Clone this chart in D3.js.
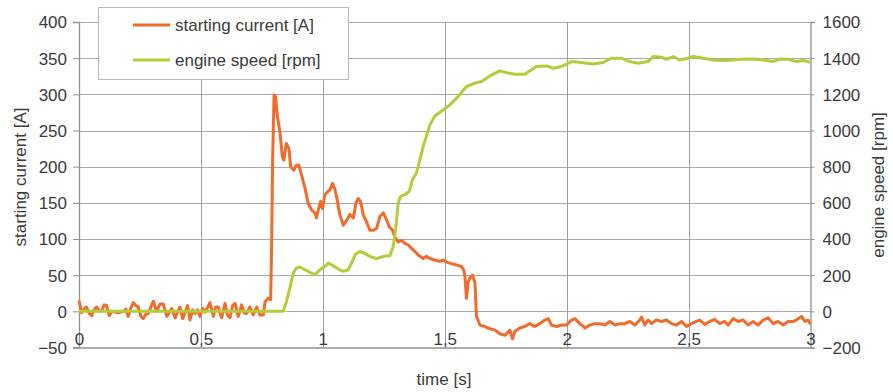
<!DOCTYPE html>
<html><head><meta charset="utf-8">
<script src="https://cdn.jsdelivr.net/npm/d3@7"></script>
<style>body{margin:0;background:#fff}svg{display:block;font-family:"Liberation Sans",Arial,sans-serif}</style>
</head><body><svg id="c" width="893" height="392"></svg>
<script>
const xTicks = [0, 0.5, 1, 1.5, 2, 2.5, 3];
const xTickLabels = ["0", "0,5", "1", "1,5", "2", "2,5", "3"];
const currentTicks = [-50, 0, 50, 100, 150, 200, 250, 300, 350, 400];
const speedTicks = [-200, 0, 200, 400, 600, 800, 1000, 1200, 1400, 1600];
const seriesNames = ["starting current [A]", "engine speed [rpm]"];

const currentTime = [0,0.011,0.021,0.031,0.042,0.052,0.062,0.072,0.083,0.093,0.103,0.113,0.124,0.134,0.148,0.161,0.172,0.182,0.192,0.202,0.213,0.223,0.233,0.243,0.254,0.264,0.274,0.284,0.295,0.305,0.318,0.332,0.346,0.36,0.37,0.38,0.394,0.404,0.414,0.425,0.435,0.445,0.455,0.466,0.476,0.486,0.496,0.507,0.517,0.527,0.537,0.551,0.561,0.571,0.585,0.599,0.609,0.619,0.63,0.64,0.653,0.667,0.677,0.687,0.701,0.715,0.729,0.742,0.756,0.763,0.776,0.786,
0.790,0.794,0.8,0.806,0.813,0.824,0.834,0.84,0.85,0.861,0.868,0.881,0.891,0.902,0.913,0.927,0.94,0.954,0.968,0.974,0.981,0.991,0.999,1.008,1.018,1.029,1.04,1.05,1.059,1.07,1.084,1.098,1.111,1.125,1.136,1.145,1.155,1.166,1.179,1.193,1.207,1.221,1.234,1.248,1.262,1.272,1.286,1.295,1.309,1.323,1.336,1.35,1.364,1.377,1.391,1.412,1.425,1.439,1.459,1.48,1.494,1.507,1.528,1.548,1.569,1.578,1.583,1.589,1.596,1.603,1.614,1.624,1.63,1.644,1.665,1.685,1.706,1.726,1.747,1.767,1.778,1.787,1.808,1.828,1.849,1.869,1.89,1.91,1.924,1.938,1.959,1.979,2.0,2.02,2.034,2.054,2.075,2.095,2.116,2.136,2.157,2.177,2.198,2.218,2.239,2.259,2.28,2.3,2.307,2.321,2.334,2.348,2.368,2.389,2.409,2.43,2.45,2.471,2.491,2.512,2.532,2.546,2.566,2.587,2.607,2.628,2.648,2.662,2.683,2.703,2.724,2.744,2.765,2.785,2.806,2.826,2.847,2.867,2.888,2.908,2.929,2.942,2.963,2.977,2.99,3.0];
const currentValues = [15,-2,3,6,-3,-6,2,6,1,0,9,8,-6,0,-1,-2,-1,0,3,-7,5,12,8,6,-7,-10,-4,-3,6,14,0,10,10,-7,-2,4,-9,-1,6,-10,-2,8,-12,2,-3,2,-7,4,-1,5,12,-7,6,6,-9,11,-5,-9,8,11,-7,9,-2,-3,6,-5,6,-5,-5,13,18,16,
92,207,299,297,271,248,214,209,232,225,200,195,202,202,188,170,149,140,136,129,140,152,142,161,165,168,177,168,154,133,119,126,134,129,150,156,152,133,124,112,112,115,131,136,126,117,112,103,96,98,94,92,87,83,78,73,76,73,71,69,71,68,66,64,62,57,48,18,40,46,50,39,-6,-19,-21,-24,-26,-31,-33,-26,-38,-28,-23,-21,-17,-21,-17,-12,-10,-19,-21,-19,-19,-12,-10,-17,-23,-19,-17,-17,-19,-14,-19,-17,-17,-14,-19,-12,-8,-19,-12,-17,-12,-14,-12,-17,-19,-14,-21,-17,-14,-12,-18,-14,-11,-17,-14,-19,-10,-14,-12,-19,-14,-19,-12,-9,-17,-14,-19,-14,-14,-12,-7,-14,-12,-18];

const speedTime = [0,0.838,0.851,0.865,0.879,0.892,0.906,0.927,0.947,0.968,0.988,1.009,1.022,1.043,1.063,1.084,1.104,1.118,1.132,1.152,1.173,1.193,1.221,1.248,1.275,1.289,1.3,1.309,1.319,1.336,1.354,1.368,1.384,1.398,1.412,1.425,1.439,1.459,1.494,1.521,1.555,1.589,1.623,1.651,1.685,1.726,1.753,1.788,1.828,1.876,1.917,1.945,1.979,2.02,2.061,2.109,2.15,2.184,2.225,2.259,2.293,2.334,2.355,2.389,2.409,2.437,2.464,2.498,2.519,2.56,2.601,2.642,2.683,2.717,2.751,2.786,2.82,2.847,2.875,2.909,2.943,2.97,3.0];
const speedValues = [0,0,56,130,212,240,245,230,216,203,230,249,267,252,234,221,230,267,313,332,319,304,291,304,308,360,470,599,636,645,663,728,765,838,914,970,1031,1080,1114,1142,1188,1243,1262,1271,1302,1330,1320,1311,1311,1354,1357,1344,1354,1381,1376,1368,1376,1400,1400,1381,1372,1381,1409,1405,1394,1409,1390,1400,1409,1400,1390,1387,1390,1394,1396,1394,1387,1381,1396,1394,1381,1387,1377];

const orange = "#f26b2b", green = "#b3cc3a", textCol = "#3a3a3a";
const svg = d3.select("#c");
const L = 79, R = 810.5, T = 22, B = 347.5;
const x = d3.scaleLinear().domain([0, 3]).range([L, R]);
const yL = d3.scaleLinear().domain([-50, 400]).range([B, T]);
const yR = d3.scaleLinear().domain([-200, 1600]).range([B, T]);

// grid
svg.append("g").selectAll("line").data(currentTicks.slice(1)).join("line")
  .attr("x1", L).attr("x2", R).attr("y1", d => Math.round(yL(d)) + 0.5).attr("y2", d => Math.round(yL(d)) + 0.5)
  .attr("stroke", "#a9a9a9").attr("stroke-width", 1);
svg.append("g").selectAll("line").data(xTicks.slice(1, -1)).join("line")
  .attr("x1", d => Math.round(x(d)) + 0.5).attr("x2", d => Math.round(x(d)) + 0.5).attr("y1", T).attr("y2", B)
  .attr("stroke", "#a0a0a0").attr("stroke-width", 1);

// axes
const axCol = "#8a9299";
const gl = svg.append("g").attr("transform", `translate(${L},0)`)
  .call(d3.axisLeft(yL).tickValues(currentTicks).tickSize(6).tickPadding(6).tickFormat(d3.format("d")));
const gr = svg.append("g").attr("transform", `translate(${R},0)`)
  .call(d3.axisRight(yR).tickValues(speedTicks).tickSize(4).tickPadding(8).tickFormat(d3.format("d")));
const gb = svg.append("g").attr("transform", `translate(0,${B})`)
  .call(d3.axisBottom(x).tickValues(xTicks).tickSize(0).tickFormat((d, i) => xTickLabels[i]));
[gl, gr, gb].forEach(g => {
  g.select(".domain").attr("stroke", axCol).attr("stroke-width", 1.3);
  g.selectAll(".tick line").attr("stroke", axCol);
  g.selectAll("text").attr("fill", textCol).style("font-size", "17px").style("font-family", "Liberation Sans, Arial, sans-serif");
});
gb.selectAll(".tick text").attr("y", -2.5).attr("dy", 0);
gl.selectAll(".tick text").attr("dy", "0.35em");
gr.selectAll(".tick text").attr("dy", "0.35em");

// lines
const lineC = d3.line().x((d, i) => x(currentTime[i])).y(d => yL(d)).curve(d3.curveLinear);
const lineS = d3.line().x((d, i) => x(speedTime[i])).y(d => yR(d)).curve(d3.curveLinear);
svg.append("path").datum(currentValues).attr("d", lineC).attr("fill", "none")
  .attr("stroke", orange).attr("stroke-width", 3).attr("stroke-linejoin", "round");
svg.append("path").datum(speedValues).attr("d", lineS).attr("fill", "none")
  .attr("stroke", green).attr("stroke-width", 3).attr("stroke-linejoin", "round");

// axis titles
const tStyle = s => s.attr("fill", textCol).style("font-size", "17px").attr("text-anchor", "middle");
svg.append("text").attr("transform", "translate(26,177) rotate(-90)").text("starting current [A]").call(tStyle);
svg.append("text").attr("transform", "translate(884,185) rotate(-90)").text("engine speed [rpm]").call(tStyle);
svg.append("text").attr("x", 444).attr("y", 385).text("time [s]").call(tStyle);

// legend
const lg = svg.append("g");
lg.append("rect").attr("x", 98.5).attr("y", 7.5).attr("width", 250).attr("height", 72)
  .attr("fill", "#fff").attr("stroke", "#b8b8b8");
const colors = [orange, green];
seriesNames.forEach((n, i) => {
  const yy = 25 + i * 35;
  lg.append("line").attr("x1", 133).attr("x2", 170).attr("y1", yy).attr("y2", yy)
    .attr("stroke", colors[i]).attr("stroke-width", 3);
  lg.append("text").attr("x", 175).attr("y", yy + 6).text(n).attr("fill", textCol).style("font-size", "17px");
});
</script></body></html>
